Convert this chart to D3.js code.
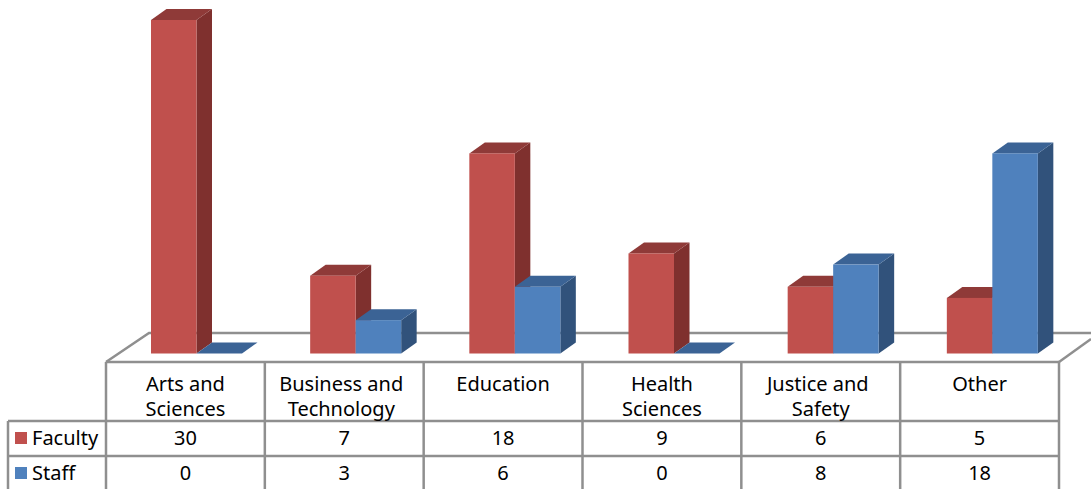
<!DOCTYPE html>
<html>
<head>
<meta charset="utf-8">
<script src="https://cdn.jsdelivr.net/npm/d3@7"></script>
<style>
html, body { margin: 0; padding: 0; background: #fff; overflow: hidden; }
text { font-family: "Noto Sans", sans-serif; font-size: 20px; fill: #000; }
</style>
</head>
<body>
<div id="chart"></div>
<script>
// data
var categories = ["Arts and Sciences", "Business and Technology", "Education", "Health Sciences", "Justice and Safety", "Other"];
var categoryLines = [["Arts and", "Sciences"], ["Business and", "Technology"], ["Education"], ["Health", "Sciences"], ["Justice and", "Safety"], ["Other"]];
var seriesNames = ["Faculty", "Staff"];
var faculty = [30, 7, 18, 9, 6, 5];
var staff = [0, 3, 6, 0, 8, 18];

var width = 1091, height = 489;
var depthX = 15.5, depthY = 11;     // 3d offset of the bars
var gridColor = "#8f8f8f";
var lineW = 2.5;

var frontColor = {Faculty: "#c0504d", Staff: "#4f81bd"};
var sideColor = {Faculty: "#7f302e", Staff: "#31527b"};
var topColor = {Faculty: "#8f3a38", Staff: "#3b6395"};

var svg = d3.select("#chart")
    .append("svg")
    .attr("width", width)
    .attr("height", height)
    .style("display", "block");

var x = d3.scaleBand().domain(categories).range([106, 1059]);
// bars sit on a slightly wider step than the table cells
var xBars = d3.scaleBand().domain(categories).range([106, 1061]);
var xInner = d3.scaleBand().domain(seriesNames).range([45, 136]);
var y = d3.scaleLinear().domain([0, 30]).range([353.5, 20]);

var poly = d3.line();

// floor of the 3d chart
svg.append("path")
    .attr("d", poly([[1091, 333], [149, 333], [106, 362]]))
    .attr("fill", "none")
    .attr("stroke", gridColor)
    .attr("stroke-width", lineW);
svg.append("path")
    .attr("d", poly([[1059, 362], [1091, 339]]))
    .attr("fill", "none")
    .attr("stroke", gridColor)
    .attr("stroke-width", lineW);

// bars
categories.forEach(function (cat, i) {
    [faculty[i], staff[i]].forEach(function (v, s) {
        var name = seriesNames[s];
        var x0 = xBars(cat) + xInner(name);
        var x1 = x0 + xInner.bandwidth();
        var y0 = y(0);
        var y1 = y(v);
        var g = svg.append("g");

        // right side
        g.append("path")
            .attr("d", poly([[x1, y0], [x1 + depthX, y0 - depthY], [x1 + depthX, y1 - depthY], [x1, y1]]) + "Z")
            .attr("fill", sideColor[name]);
        // top
        g.append("path")
            .attr("d", poly([[x0, y1], [x0 + depthX, y1 - depthY], [x1 + depthX, y1 - depthY], [x1, y1]]) + "Z")
            .attr("fill", topColor[name]);
        // front
        if (v > 0) {
            g.append("rect")
                .attr("x", x0)
                .attr("y", y1)
                .attr("width", x1 - x0)
                .attr("height", y0 - y1)
                .attr("fill", frontColor[name]);
        }
    });
});

// data table lines
var rowY = [362, 421, 456];
var tableBottom = 489;

rowY.forEach(function (ry, i) {
    svg.append("line")
        .attr("x1", i === 0 ? 106 : 8)
        .attr("x2", 1059)
        .attr("y1", ry)
        .attr("y2", ry)
        .attr("stroke", gridColor)
        .attr("stroke-width", lineW);
});

var edges = categories.map(function (c) { return x(c); }).concat([x.range()[1]]);
edges.forEach(function (ex) {
    svg.append("line")
        .attr("x1", ex)
        .attr("x2", ex)
        .attr("y1", 362)
        .attr("y2", tableBottom)
        .attr("stroke", gridColor)
        .attr("stroke-width", lineW);
});
svg.append("line")
    .attr("x1", 8)
    .attr("x2", 8)
    .attr("y1", 421)
    .attr("y2", tableBottom)
    .attr("stroke", gridColor)
    .attr("stroke-width", lineW);

// category labels, the long lines sit a little left of centre
categories.forEach(function (cat, i) {
    categoryLines[i].forEach(function (line, k) {
        svg.append("text")
            .attr("x", x(cat) + x.bandwidth() / 2 - (line.length > 9 ? 3 : 0))
            .attr("y", 391 + k * 25)
            .attr("text-anchor", "middle")
            .text(line);
    });
});

// legend keys and value rows
[faculty, staff].forEach(function (vals, s) {
    var name = seriesNames[s];
    var mid = s === 0 ? 438 : 473;

    svg.append("rect")
        .attr("x", 15)
        .attr("y", mid - 6)
        .attr("width", 12)
        .attr("height", 12)
        .attr("fill", frontColor[name]);

    svg.append("text")
        .attr("x", 32)
        .attr("y", mid + 7)
        .text(name);

    vals.forEach(function (v, i) {
        svg.append("text")
            .attr("x", x(categories[i]) + x.bandwidth() / 2)
            .attr("y", mid + 7)
            .attr("text-anchor", "middle")
            .text(v);
    });
});
</script>
</body>
</html>
